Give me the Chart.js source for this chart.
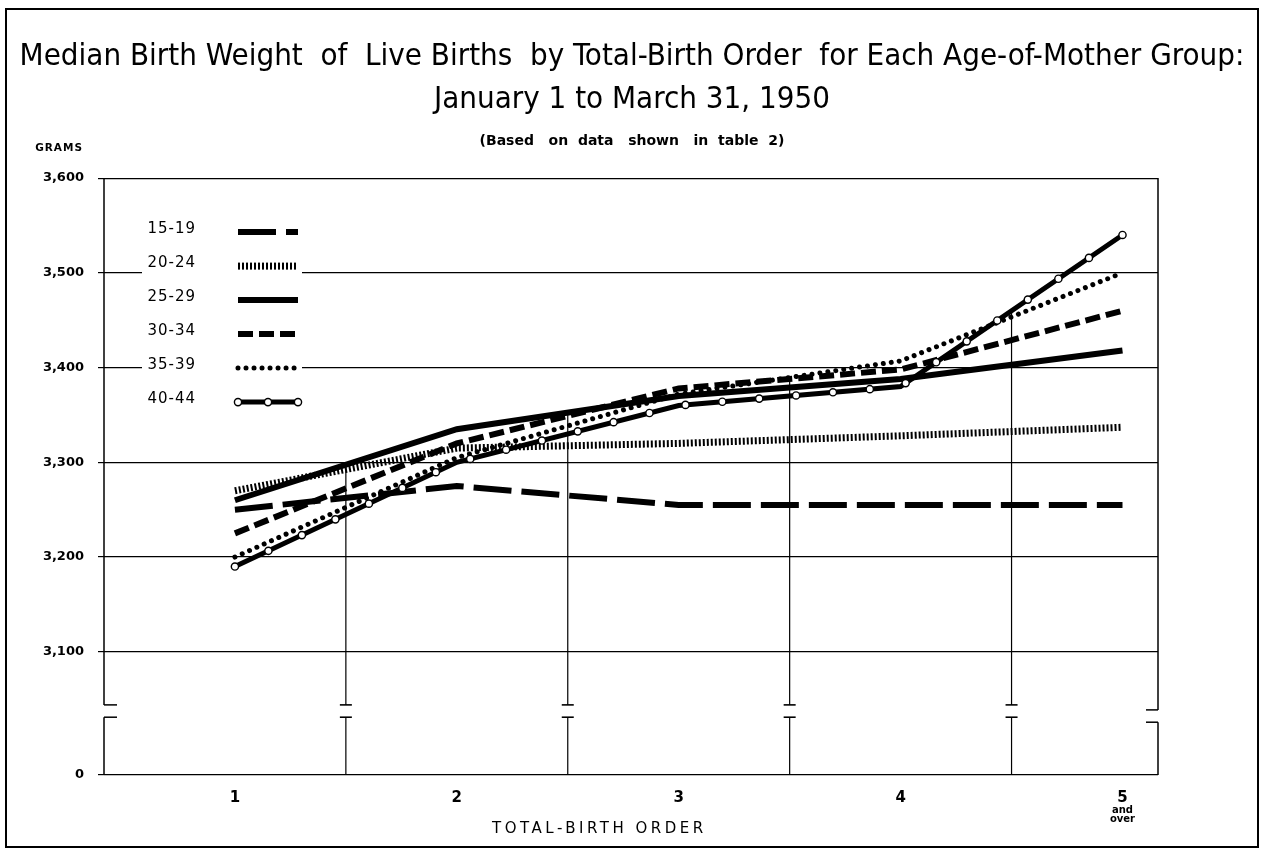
<!DOCTYPE html>
<html>
<head>
<meta charset="utf-8">
<script src="https://cdn.jsdelivr.net/npm/chart.js@4.4.1/dist/chart.umd.min.js"></script>
<style>
html,body{margin:0;padding:0;background:#fff;}
#wrap{width:1264px;height:853px;position:relative;}
canvas{display:block;}
</style>
</head>
<body>
<div id="wrap"><canvas id="c" width="1264" height="853"></canvas></div>
<script>
// ---------- data ----------
const categories = [1, 2, 3, 4, 5];
const xTickLabels = ['1', '2', '3', '4', '5'];
const lastTickNote = ['and', 'over'];
const ageGroups = ['15-19', '20-24', '25-29', '30-34', '35-39', '40-44'];
const w15_19 = [3250, 3275, 3255, 3255, 3255];
const w20_24 = [3270, 3315, 3320, 3328, 3337];
const w25_29 = [3260, 3335, 3370, 3388, 3418];
const w30_34 = [3225, 3320, 3378, 3398, 3460];
const w35_39 = [3200, 3305, 3372, 3407, 3500];
const w40_44 = [3190, 3300, 3360, 3380, 3540];
const yTickValues = [2970, 3100, 3200, 3300, 3400, 3500, 3600];
const yTickLabels = ['0', '3,100', '3,200', '3,300', '3,400', '3,500', '3,600'];
const breakValues = [3044, 3031];
const dividerValues = [1.5, 2.5, 3.5, 4.5];
const titleLines = ['Median Birth Weight  of  Live Births  by Total-Birth Order  for Each Age-of-Mother Group:', 'January 1 to March 31, 1950'];
const subtitleText = '(Based   on  data   shown   in  table  2)';
const yAxisUnit = 'GRAMS';
const xAxisTitle = 'TOTAL-BIRTH ORDER';

const series = [w15_19, w20_24, w25_29, w30_34, w35_39, w40_44];
const styles = [
  {borderWidth: 6, borderDash: [38, 10], borderCapStyle: 'butt'},
  {borderWidth: 7, borderDash: [2, 2], borderCapStyle: 'butt'},
  {borderWidth: 6, borderDash: [], borderCapStyle: 'butt'},
  {borderWidth: 6, borderDash: [15, 6], borderCapStyle: 'butt'},
  {borderWidth: 5, borderDash: [0.01, 8], borderCapStyle: 'round'},
  {borderWidth: 5, borderDash: [], borderCapStyle: 'butt', ringMarks: true, ringSpacing: 37}
];

const datasets = ageGroups.map((g, i) => Object.assign({
  label: g,
  data: categories.map((c, k) => ({x: c, y: series[i][k]})),
  borderColor: '#000',
  backgroundColor: '#000',
  pointRadius: 0,
  tension: 0,
  fill: false,
  yAxisID: 'y'
}, styles[i]));

// ---------- helpers ----------
function line(ctx, x1, y1, x2, y2) { ctx.beginPath(); ctx.moveTo(x1, y1); ctx.lineTo(x2, y2); ctx.stroke(); }
function ring(ctx, x, y) {
  ctx.save(); ctx.setLineDash([]);
  ctx.beginPath(); ctx.arc(x, y, 3.6, 0, Math.PI * 2);
  ctx.fillStyle = '#fff'; ctx.fill();
  ctx.lineWidth = 1.4; ctx.strokeStyle = '#000'; ctx.stroke();
  ctx.restore();
}
function interp(arr, v) {
  const i = Math.floor(v) - 1; const f = v - Math.floor(v);
  return arr[i] + (arr[i + 1] - arr[i]) * f;
}

// ---------- plugins ----------
const framePlugin = {
  id: 'frame',
  beforeDraw(chart) {
    const ctx = chart.ctx;
    ctx.save();
    ctx.fillStyle = '#fff'; ctx.fillRect(0, 0, chart.width, chart.height);
    ctx.strokeStyle = '#000'; ctx.lineWidth = 2;
    ctx.strokeRect(6, 9, chart.width - 12, chart.height - 15);
    ctx.restore();
  }
};

const axisPlugin = {
  id: 'brokenAxis',
  beforeDatasetsDraw(chart) {
    const {ctx, chartArea: {left, right, top, bottom}, scales: {x, y}} = chart;
    const yb1 = y.getPixelForValue(breakValues[0]);
    const yb2 = y.getPixelForValue(breakValues[1]);
    ctx.save();
    ctx.strokeStyle = '#000'; ctx.lineWidth = 1.5; ctx.setLineDash([]);
    // left axis with break
    line(ctx, left, top, left, yb1); line(ctx, left, yb1, left + 13, yb1);
    line(ctx, left, yb2, left + 13, yb2); line(ctx, left, yb2, left, bottom);
    // right axis with break
    line(ctx, right, top, right, yb1 + 5); line(ctx, right, yb1 + 5, right - 12, yb1 + 5);
    line(ctx, right, yb2 + 5, right - 12, yb2 + 5); line(ctx, right, yb2 + 5, right, bottom);
    // divider lines between birth orders
    ctx.lineWidth = 1.2;
    dividerValues.forEach(v => {
      const px = x.getPixelForValue(v);
      const topVal = Math.max(...series.map(s => interp(s, v)));
      const py = y.getPixelForValue(topVal);
      line(ctx, px, py, px, yb1);
      ctx.lineWidth = 1.6;
      line(ctx, px - 6, yb1, px + 6, yb1);
      line(ctx, px - 6, yb2, px + 6, yb2);
      ctx.lineWidth = 1.2;
      line(ctx, px, yb2, px, bottom);
    });
    // legend inside plot
    ctx.font = '15px "DejaVu Sans", sans-serif';
    ctx.textAlign = 'right'; ctx.textBaseline = 'middle';
    chart.data.datasets.forEach((ds, i) => {
      const ry = top + 51 + i * 34;
      ctx.fillStyle = '#fff';
      ctx.fillRect(left + 38, ry - 12, 160, 24);
      ctx.fillStyle = '#000';
      ctx.letterSpacing = '1px';
      ctx.fillText(ds.label, left + 92, ry);
      ctx.letterSpacing = '0px';
      const sx1 = left + 134, sx2 = left + 194, sy = ry + 3;
      ctx.save();
      ctx.lineWidth = ds.borderWidth; ctx.lineCap = ds.borderCapStyle;
      ctx.setLineDash(ds.borderDash || []);
      line(ctx, sx1, sy, sx2, sy);
      ctx.restore();
      if (ds.ringMarks) { ring(ctx, sx1, sy); ring(ctx, (sx1 + sx2) / 2, sy); ring(ctx, sx2, sy); }
    });
    ctx.restore();
  },
  afterDatasetsDraw(chart) {
    const ctx = chart.ctx;
    chart.data.datasets.forEach((ds, i) => {
      if (!ds.ringMarks) return;
      const pts = chart.getDatasetMeta(i).data.map(p => ({x: p.x, y: p.y}));
      const marks = [pts[0]];
      let carry = 0;
      for (let k = 1; k < pts.length; k++) {
        const a = pts[k - 1], b = pts[k];
        const L = Math.hypot(b.x - a.x, b.y - a.y);
        let d = ds.ringSpacing - carry;
        while (d <= L) { marks.push({x: a.x + (b.x - a.x) * d / L, y: a.y + (b.y - a.y) * d / L}); d += ds.ringSpacing; }
        carry = L - (d - ds.ringSpacing);
      }
      const end = pts[pts.length - 1], lm = marks[marks.length - 1];
      if (Math.hypot(end.x - lm.x, end.y - lm.y) > 12) marks.push(end); else marks[marks.length - 1] = end;
      marks.forEach(m => ring(ctx, m.x, m.y));
    });
  },
  afterDraw(chart) {
    const {ctx, chartArea: {left, top}, scales: {x}} = chart;
    ctx.save();
    ctx.fillStyle = '#000';
    // unit label
    ctx.font = 'bold 10.5px "DejaVu Sans", sans-serif';
    ctx.textAlign = 'right'; ctx.textBaseline = 'middle';
    ctx.letterSpacing = '1px';
    ctx.fillText(yAxisUnit, left - 21, top - 30);
    // note under last tick
    ctx.font = 'bold 10px "Liberation Sans Narrow", "DejaVu Sans", sans-serif';
    ctx.textAlign = 'center';
    ctx.letterSpacing = '0px';
    const lx = x.getPixelForValue(categories[categories.length - 1]);
    lastTickNote.forEach((t, i) => ctx.fillText(t, lx, 810 + i * 9));
    // x axis title
    ctx.font = '15px "DejaVu Sans", sans-serif';
    ctx.letterSpacing = '3.5px';
    ctx.fillText(xAxisTitle, left + (chart.chartArea.right - left) * 0.47, 829);
    ctx.restore();
  }
};

// ---------- chart ----------
new Chart(document.getElementById('c'), {
  type: 'line',
  data: {datasets},
  options: {
    responsive: false,
    animation: false,
    devicePixelRatio: 1,
    layout: {padding: 0},
    plugins: {
      legend: {display: false},
      tooltip: {enabled: false},
      title: {
        display: true,
        text: titleLines,
        color: '#000',
        font: {family: '"Liberation Sans Narrow", "DejaVu Sans Condensed", "Roboto Condensed", sans-serif', size: 31, weight: 'normal', lineHeight: 1.4},
        padding: {top: 35, bottom: 0}
      },
      subtitle: {
        display: true,
        text: subtitleText,
        color: '#000',
        font: {family: '"DejaVu Sans", sans-serif', size: 14, weight: 'bold', lineHeight: 1.2},
        padding: {top: 11.5, bottom: 28}
      }
    },
    scales: {
      x: {
        type: 'linear',
        min: 0.41, max: 5.16,
        afterBuildTicks: s => { s.ticks = categories.map(v => ({value: v})); },
        afterFit: s => { s.height = 78; },
        grid: {display: false, drawTicks: false},
        border: {display: false},
        ticks: {
          autoSkip: false, maxRotation: 0, padding: 14, color: '#000',
          font: {family: '"Liberation Sans Narrow", "DejaVu Sans", sans-serif', size: 15, weight: 'bold'},
          callback: v => xTickLabels[categories.indexOf(v)]
        }
      },
      y: {
        type: 'linear',
        position: 'left',
        min: yTickValues[0], max: yTickValues[yTickValues.length - 1],
        afterBuildTicks: s => { s.ticks = yTickValues.map(v => ({value: v})); },
        afterFit: s => { s.width = 104; },
        grid: {color: '#000', lineWidth: 1.2, tickLength: 6, drawTicks: true},
        border: {display: false},
        ticks: {
          padding: 14, color: '#000',
          font: {family: '"DejaVu Sans", sans-serif', size: 13, weight: 'bold'},
          callback: v => yTickLabels[yTickValues.indexOf(v)]
        }
      },
      yRight: {
        type: 'linear',
        position: 'right',
        display: true,
        afterFit: s => { s.width = 106; },
        grid: {display: false, drawTicks: false},
        border: {display: false},
        ticks: {display: false}
      }
    }
  },
  plugins: [framePlugin, axisPlugin]
});
</script>
</body>
</html>
